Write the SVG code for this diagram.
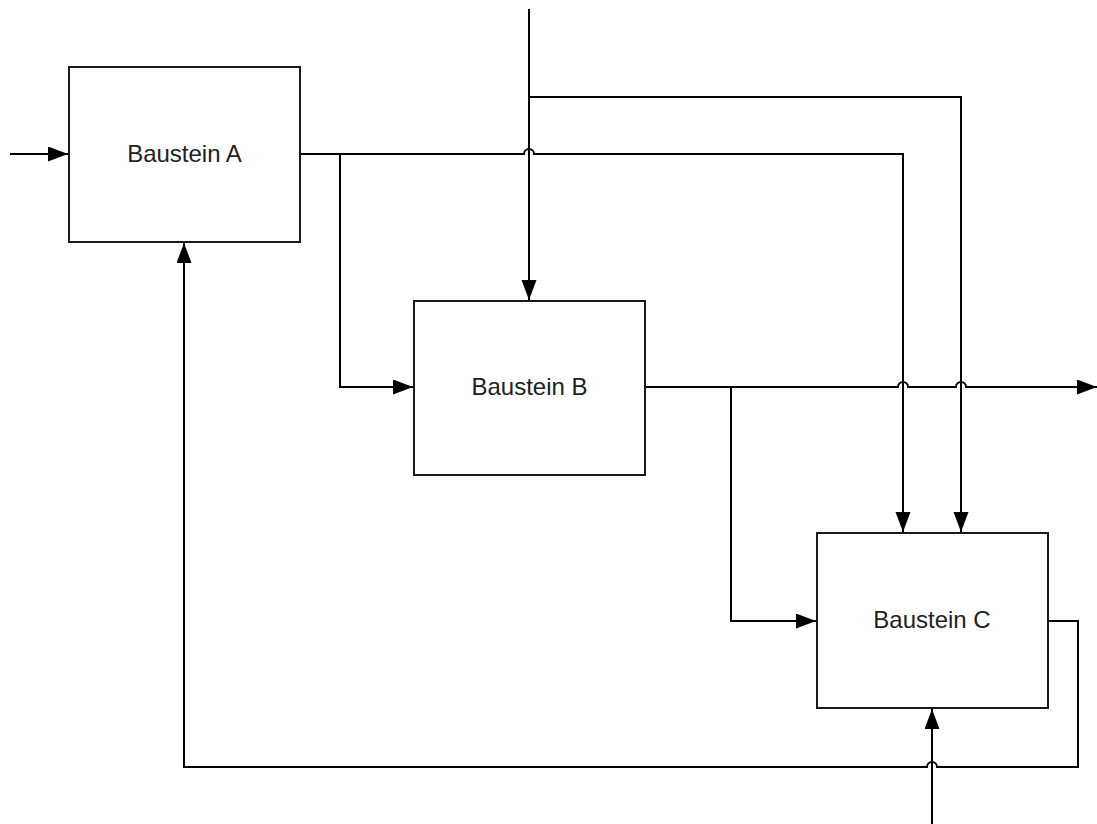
<svg xmlns="http://www.w3.org/2000/svg" width="1097" height="824" viewBox="0 0 1097 824">
<style>
.box{fill:#fff;stroke:#1a1a1a;stroke-width:2}
.lbl{font-family:"Liberation Sans",Arial,sans-serif;font-size:24px;fill:#222;text-anchor:middle}
.c{fill:none;stroke:#000;stroke-width:2}
</style>
<defs>
<marker id="ah" markerUnits="userSpaceOnUse" markerWidth="22" markerHeight="16" refX="20" refY="7.5" orient="auto">
<path d="M0,0 L20,7.5 L0,15 Z" fill="#000"/>
</marker>
</defs>
<rect width="1097" height="824" fill="#fff"/>
<g id="connectors">
<path class="c" d="M10,154 H68" marker-end="url(#ah)"/>
<path class="c" d="M529,9 V300" marker-end="url(#ah)"/>
<path class="c" d="M529,97 H961 V532" marker-end="url(#ah)"/>
<path class="c" d="M300,154 H524 A5,5 0 0 1 534,154 H903 V532" marker-end="url(#ah)"/>
<path class="c" d="M340,154 V387 H413" marker-end="url(#ah)"/>
<path class="c" d="M645,387 H898 A5,5 0 0 1 908,387 H956 A5,5 0 0 1 966,387 H1097" marker-end="url(#ah)"/>
<path class="c" d="M731,387 V621 H816" marker-end="url(#ah)"/>
<path class="c" d="M1048,621 H1078 V767 H937 A5,5 0 0 0 927,767 H184 V243" marker-end="url(#ah)"/>
<path class="c" d="M932,824 V709" marker-end="url(#ah)"/>
</g>
<g id="nodeA">
<rect class="box" x="69" y="67" width="231" height="175"/>
<text class="lbl" x="184.5" y="162">Baustein A</text>
</g>
<g id="nodeB">
<rect class="box" x="414" y="301" width="231" height="174"/>
<text class="lbl" x="529.5" y="395">Baustein B</text>
</g>
<g id="nodeC">
<rect class="box" x="817" y="533" width="231" height="175"/>
<text class="lbl" x="932" y="628">Baustein C</text>
</g>
</svg>
